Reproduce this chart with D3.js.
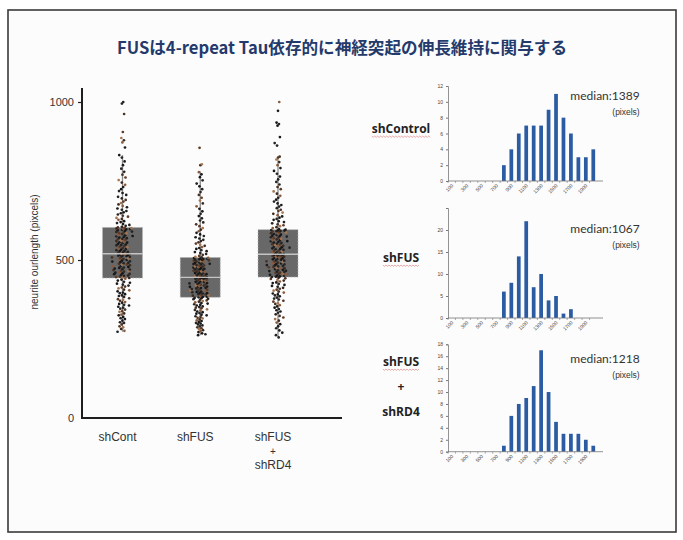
<!DOCTYPE html>
<html>
<head>
<meta charset="utf-8">
<script src="https://cdn.jsdelivr.net/npm/d3@7"></script>
<style>
  html, body { margin: 0; padding: 0; background: #ffffff; }
  svg { display: block; }
</style>
</head>
<body>
<script>
// ---- Box plot data: neurite outgrowth length (pixels) per condition ----
const categories = ["shCont", "shFUS", "shFUS+shRD4"];
const categoryLabels = [["shCont"], ["shFUS"], ["shFUS", "+", "shRD4"]];
const boxQ1 = [443, 382, 446];
const boxMedian = [520, 445, 518];
const boxQ3 = [603, 508, 596];
const whiskerLow = [273, 262, 255];
const whiskerHigh = [832, 780, 827];
const yTicks = [0, 500, 1000];

const dotsShCont = [
  273, 276, 282, 287, 290, 296, 301, 303, 308, 313, 316, 320, 325, 327, 331, 336, 338, 343, 346, 349,
  352, 356, 358, 361, 365, 367, 371, 374, 376, 379, 383, 386, 388, 392, 395, 397, 401, 404, 406, 410,
  413, 416, 419, 422, 425, 428, 431, 435, 438, 441,
  443, 445, 446, 448, 450, 451, 453, 455, 456, 458, 460, 461, 463, 465, 466, 468, 470, 471, 473, 475,
  476, 478, 480, 481, 483, 485, 486, 488, 490, 491, 493, 495, 496, 498, 500, 501, 503, 505, 506, 508,
  510, 511, 513, 514, 515, 516, 517, 518, 519, 520,
  521, 523, 524, 526, 528, 529, 531, 533, 535, 537, 538, 540, 542, 544, 546, 547, 549, 551, 553, 555,
  556, 558, 560, 562, 564, 566, 567, 569, 571, 573, 575, 576, 578, 580, 582, 584, 585, 587, 589, 590,
  592, 594, 595, 597, 598, 599, 600, 601, 602, 603,
  605, 608, 611, 614, 617, 620, 623, 627, 630, 633, 637, 640, 644, 648, 651, 655, 659, 663, 667, 671,
  676, 680, 685, 690, 695, 700, 706, 712, 718, 724, 731, 738, 745, 753, 761, 770, 779, 789, 800, 812,
  824, 832, 856, 872, 879, 886, 905, 962, 995, 1000
];
const dotsShFUS = [
  262, 265, 268, 272, 275, 278, 281, 284, 287, 290, 293, 296, 299, 301, 304, 307, 309, 312, 315, 317,
  320, 322, 325, 327, 330, 332, 335, 337, 340, 342, 344, 347, 349, 351, 353, 356, 358, 360, 362, 364,
  366, 368, 370, 372, 374, 376, 377, 379, 380, 382,
  383, 384, 386, 387, 388, 390, 391, 392, 394, 395, 396, 398, 399, 400, 402, 403, 404, 406, 407, 408,
  410, 411, 412, 414, 415, 416, 418, 419, 420, 422, 423, 424, 426, 427, 428, 430, 431, 432, 434, 435,
  436, 438, 439, 440, 441, 442, 443, 444, 444, 445,
  446, 447, 448, 450, 451, 452, 454, 455, 456, 458, 459, 460, 462, 463, 464, 466, 467, 468, 470, 471,
  472, 474, 475, 476, 478, 479, 480, 482, 483, 484, 486, 487, 488, 490, 491, 492, 494, 495, 496, 498,
  499, 500, 501, 502, 503, 504, 505, 506, 507, 508,
  510, 513, 516, 519, 522, 525, 528, 531, 535, 538, 541, 545, 548, 552, 556, 560, 564, 568, 572, 576,
  581, 586, 591, 596, 601, 607, 613, 619, 625, 632, 639, 646, 654, 662, 670, 679, 688, 697, 706, 715,
  724, 733, 742, 752, 762, 771, 778, 800, 803, 855
];
const dotsShFUSRD4 = [
  255, 262, 270, 277, 284, 290, 297, 302, 308, 313, 318, 323, 328, 333, 337, 341, 345, 349, 353, 357,
  361, 364, 368, 371, 375, 378, 381, 385, 388, 391, 394, 397, 400, 403, 406, 409, 412, 415, 418, 421,
  424, 427, 429, 432, 435, 437, 440, 442, 444, 446,
  447, 448, 450, 451, 453, 454, 456, 457, 459, 460, 462, 463, 465, 466, 468, 469, 471, 472, 474, 475,
  477, 478, 480, 481, 483, 484, 486, 487, 489, 490, 492, 493, 495, 496, 498, 499, 501, 502, 504, 505,
  507, 508, 510, 511, 512, 513, 514, 515, 516, 518,
  519, 521, 522, 524, 525, 527, 529, 530, 532, 534, 535, 537, 539, 540, 542, 544, 545, 547, 549, 550,
  552, 554, 555, 557, 559, 560, 562, 564, 565, 567, 569, 570, 572, 574, 575, 577, 579, 580, 582, 584,
  585, 587, 588, 590, 591, 592, 593, 594, 595, 596,
  598, 601, 604, 607, 610, 613, 616, 620, 623, 627, 630, 634, 638, 642, 646, 650, 655, 659, 664, 669,
  674, 679, 685, 691, 697, 703, 710, 717, 724, 731, 739, 747, 755, 764, 773, 782, 791, 800, 810, 818,
  824, 827, 862, 870, 889, 925, 930, 935, 972, 1000
];
const dotGroups = [dotsShCont, dotsShFUS, dotsShFUSRD4];

// ---- Histogram data: counts per 100-pixel bin ----
const histBins = ["0", "100", "200", "300", "400", "500", "600", "700", "800", "900",
                  "1000", "1100", "1200", "1300", "1400", "1500", "1600", "1700", "1800", "1900"];
const histTickLabels = ["100", "300", "500", "700", "900", "1100", "1300", "1500", "1700", "1900"];
const histShControl = [0, 0, 0, 0, 0, 0, 0, 2, 4, 6, 7, 7, 7, 9, 11, 8, 6, 3, 3, 4];
const histShFUS = [0, 0, 0, 0, 0, 0, 0, 6, 8, 14, 22, 7, 10, 4, 5, 1, 2, 0, 0, 0];
const histShFUSRD4 = [0, 0, 0, 0, 0, 0, 0, 1, 6, 8, 9, 11, 17, 10, 5, 3, 3, 3, 2, 1];
const histMedians = [1389, 1067, 1218];
const histNames = [["shControl"], ["shFUS"], ["shFUS", "+", "shRD4"]];

const W = 683, H = 540;
const SANS = "'Liberation Sans', Arimo, sans-serif";
const svg = d3.select("body").append("svg").attr("width", W).attr("height", H);

// slide background and frame
svg.append("rect").attr("x", 8).attr("y", 10).attr("width", 668).attr("height", 522)
  .attr("fill", "#fcfcfc").attr("stroke", "#3a3a3a").attr("stroke-width", 1.6);

// title
svg.append("text")
  .attr("x", 342).attr("y", 54)
  .attr("text-anchor", "middle")
  .attr("font-family", "'Noto Sans CJK JP', 'Noto Sans', sans-serif")
  .attr("font-weight", "bold")
  .attr("font-size", 16.6)
  .attr("fill", "#243a6b")
  .text("FUSは4-repeat Tau依存的に神経突起の伸長維持に関与する");

// ================= Box plot =================
const y = d3.scaleLinear().domain([0, 1000]).range([418, 102]);
const x = d3.scalePoint().domain(categories).range([122.5, 278]);
const boxW = 40;

const bp = svg.append("g");

// y axis
const yAxis = d3.axisLeft(y).tickValues(yTicks).tickSize(4).tickPadding(4).tickFormat(d3.format("d"));
const yAxisG = bp.append("g").attr("transform", "translate(82,0)").call(yAxis);
yAxisG.select(".domain").remove();
yAxisG.selectAll(".tick line").attr("stroke", "#222").attr("stroke-width", 1.2);
yAxisG.selectAll(".tick").filter(d => d === 0).select("line").remove();
yAxisG.selectAll("text").attr("font-family", SANS)
  .attr("font-size", 11).attr("fill", "#333");
bp.append("line").attr("x1", 82).attr("x2", 82).attr("y1", 88).attr("y2", 419)
  .attr("stroke", "#1e1e1e").attr("stroke-width", 2);
bp.append("line").attr("x1", 81).attr("x2", 342).attr("y1", 418).attr("y2", 418)
  .attr("stroke", "#1e1e1e").attr("stroke-width", 2);

// y axis title
bp.append("text")
  .attr("transform", "translate(38,252) rotate(-90)")
  .attr("text-anchor", "middle")
  .attr("font-family", SANS)
  .attr("font-size", 10).attr("fill", "#333")
  .text("neurite ourlength (pixcels)");

// category labels
categories.forEach((c, i) => {
  categoryLabels[i].forEach((line, j) => {
    bp.append("text")
      .attr("x", x(c) - 5).attr("y", 441 + j * 14)
      .attr("text-anchor", "middle")
      .attr("font-family", SANS)
      .attr("font-size", line === "+" ? 10 : 12)
      .attr("fill", "#333")
      .text(line);
  });
});

// whiskers
bp.selectAll(".whisker").data(categories).join("line")
  .attr("x1", d => x(d)).attr("x2", d => x(d))
  .attr("y1", (d, i) => y(whiskerLow[i])).attr("y2", (d, i) => y(whiskerHigh[i]))
  .attr("stroke", "#8a8a8a").attr("stroke-width", 1.3);

// boxes
bp.selectAll(".box").data(categories).join("rect")
  .attr("x", d => x(d) - boxW / 2).attr("width", boxW)
  .attr("y", (d, i) => y(boxQ3[i])).attr("height", (d, i) => y(boxQ1[i]) - y(boxQ3[i]))
  .attr("fill", "#686868").attr("stroke", "#b8b8b8").attr("stroke-width", 0.8)
  .attr("stroke-dasharray", "1.5,1.5");

// jittered points: offsets cluster toward the centre and widen where values are dense
const dotPalette = ["#1b1b1b", "#222", "#3b2a20", "#1b1b1b", "#5e3b26", "#151515",
                    "#2c2420", "#8a5a3a", "#1b1b1b", "#a47550", "#262626", "#4a3326"];
dotGroups.forEach((vals, gi) => {
  const h = 28;
  const dens = vals.map(v => d3.sum(vals, u => Math.exp(-0.5 * ((v - u) / h) ** 2)));
  const maxD = d3.max(dens);
  const cx = x(categories[gi]);
  bp.append("g").selectAll("circle").data(vals).join("circle")
    .attr("cx", (v, i) => {
      const half = 3 + 10 * dens[i] / maxD;
      const a = (i * 0.6180339 + gi * 0.37) % 1;
      const b = (i * 0.7548777 + gi * 0.21) % 1;
      return cx + (a + b - 1) * half;
    })
    .attr("cy", v => y(v))
    .attr("r", 1.35)
    .attr("fill", (v, i) => dotPalette[(i * 7 + gi * 3) % dotPalette.length]);
});

// median lines drawn over the points
bp.selectAll(".median").data(categories).join("line")
  .attr("x1", d => x(d) - boxW / 2).attr("x2", d => x(d) + boxW / 2)
  .attr("y1", (d, i) => y(boxMedian[i])).attr("y2", (d, i) => y(boxMedian[i]))
  .attr("stroke", "#d6d6d6").attr("stroke-width", 1.4).attr("opacity", 0.85);

// ================= Histograms =================
const panels = [
  { counts: histShControl, yMax: 12, step: 2, y0: 181, y1: 86, labelTop: true,
    nameY: 128, medY: 96 },
  { counts: histShFUS, yMax: 25, step: 5, y0: 318, y1: 208, labelTop: false,
    nameY: 257, medY: 229 },
  { counts: histShFUSRD4, yMax: 18, step: 2, y0: 451.7, y1: 344.3, labelTop: true,
    nameY: 361, medY: 359 }
];

const hx = d3.scaleBand().domain(histBins).range([448, 597]).paddingInner(0.5).paddingOuter(0.25);

panels.forEach((p, pi) => {
  const g = svg.append("g");
  const hy = d3.scaleLinear().domain([0, p.yMax]).range([p.y0, p.y1]);

  // bars
  g.selectAll("rect").data(p.counts).join("rect")
    .attr("x", (d, i) => hx(histBins[i]))
    .attr("width", hx.bandwidth())
    .attr("y", d => hy(d))
    .attr("height", d => p.y0 - hy(d))
    .attr("fill", "#2b5ba3");

  // y axis
  const ticks = d3.range(0, p.yMax + 0.001, p.step);
  const ya = d3.axisLeft(hy).tickValues(ticks).tickSize(2).tickPadding(3)
    .tickFormat(d => (d === p.yMax && !p.labelTop) ? "" : d);
  const yg = g.append("g").attr("transform", "translate(448,0)").call(ya);
  yg.select(".domain").attr("stroke", "#777").attr("stroke-width", 0.8);
  yg.selectAll(".tick line").attr("stroke", "#777");
  yg.selectAll("text").attr("font-family", SANS).attr("font-size", 5).attr("fill", "#444");

  // x axis with category tick marks
  g.append("line").attr("x1", 448).attr("x2", 603).attr("y1", p.y0).attr("y2", p.y0)
    .attr("stroke", "#777").attr("stroke-width", 0.8);
  g.selectAll(".xt").data(histBins).join("line")
    .attr("x1", d => hx(d) - hx.step() * 0.25).attr("x2", d => hx(d) - hx.step() * 0.25)
    .attr("y1", p.y0).attr("y2", p.y0 + 2)
    .attr("stroke", "#777").attr("stroke-width", 0.6);

  // rotated bin labels on every other bin
  histTickLabels.forEach((lab, k) => {
    const bx = hx(histBins[k * 2]) + hx.bandwidth() / 2;
    g.append("text")
      .attr("transform", `translate(${bx + 2},${p.y0 + 5}) rotate(-45)`)
      .attr("text-anchor", "end")
      .attr("font-family", SANS).attr("font-size", 5).attr("fill", "#444")
      .text(lab);
  });

  // condition name with a wavy underline
  histNames[pi].forEach((line, j) => {
    const t = g.append("text")
      .attr("x", 401).attr("y", p.nameY + 5 + j * 25)
      .attr("text-anchor", "middle")
      .attr("font-family", "'Open Sans', 'Noto Sans', sans-serif")
      .attr("font-weight", "bold")
      .attr("font-size", 12)
      .attr("fill", "#222")
      .text(line);
    if (j === 0) {
      const bb = t.node().getBBox();
      const pts = [];
      for (let xx = bb.x; xx <= bb.x + bb.width; xx += 1.5) {
        pts.push([xx, p.nameY + 8.5 + (Math.round((xx - bb.x) / 1.5) % 2 ? 0.8 : -0.4)]);
      }
      g.append("path").attr("d", d3.line()(pts)).attr("fill", "none")
        .attr("stroke", "#d05050").attr("stroke-width", 0.6).attr("opacity", 0.8);
    }
  });

  // median annotation
  g.append("text").attr("x", 605).attr("y", p.medY + 4)
    .attr("text-anchor", "middle")
    .attr("font-family", "Lato, 'Open Sans', sans-serif").attr("font-size", 12).attr("fill", "#333")
    .text("median:" + histMedians[pi]);
  g.append("text").attr("x", 626).attr("y", p.medY + 19)
    .attr("text-anchor", "middle")
    .attr("font-family", SANS).attr("font-size", 8.5).attr("fill", "#333")
    .text("(pixels)");
});
</script>
</body>
</html>
